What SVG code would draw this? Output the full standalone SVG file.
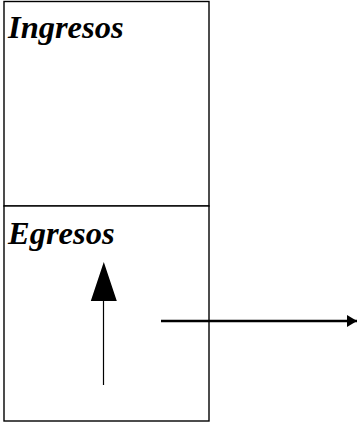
<svg xmlns="http://www.w3.org/2000/svg" width="359" height="423" viewBox="0 0 359 423">
<style>
.box{fill:#fff;stroke:#000;stroke-width:1.4}
.lbl{font-family:"Liberation Serif","Times New Roman",serif;font-weight:bold;font-style:italic;font-size:32.5px;fill:#000}
.conn{stroke:#000;fill:none}
</style>
<defs>
<marker id="ah" markerUnits="userSpaceOnUse" markerWidth="12" markerHeight="14" refX="10" refY="6" orient="auto">
<path d="M0,0 L10,6 L0,12 Z" fill="#000"/>
</marker>
</defs>
<rect width="359" height="423" fill="#fff"/>
<g id="ingresos">
<rect class="box" x="4" y="1.5" width="205" height="204.5"/>
<text class="lbl" x="8" y="37.5">Ingresos</text>
</g>
<g id="egresos">
<rect class="box" x="4" y="206" width="205" height="215"/>
<text class="lbl" x="8" y="243.5">Egresos</text>
</g>
<g id="connectors">
<line class="conn" x1="103.5" y1="385" x2="103.5" y2="300" stroke-width="1.2"/>
<path d="M103.8,262 L116.8,301 L90.8,301 Z" fill="#000"/>
<line class="conn" x1="161" y1="321" x2="357" y2="321" stroke-width="2.5" marker-end="url(#ah)"/>
</g>
</svg>
